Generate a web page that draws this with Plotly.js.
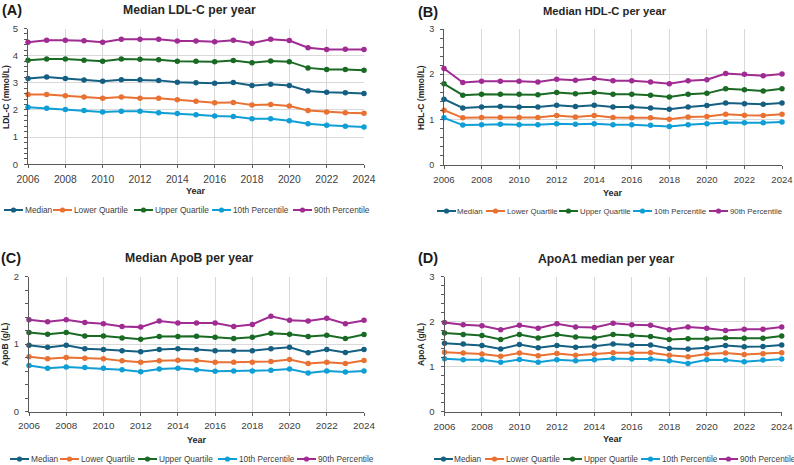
<!DOCTYPE html>
<html>
<head>
<meta charset="utf-8">
<script src="https://cdn.plot.ly/plotly-3.0.1.min.js"></script>
<style>
  html, body { margin: 0; padding: 0; background: #ffffff; }
  #chart { width: 794px; height: 465px; }
</style>
</head>
<body>
<div id="chart"></div>
<script>
// Survey years
const years = [2006, 2007, 2008, 2009, 2010, 2011, 2012, 2013, 2014, 2015,
               2016, 2017, 2018, 2019, 2020, 2021, 2022, 2023, 2024];

const seriesNames = ['Median', 'Lower Quartile', 'Upper Quartile', '10th Percentile', '90th Percentile'];
const seriesColors = ['#156082', '#E97132', '#196B24', '#0F9ED5', '#A02B93'];

// LDL-C (mmol/L)
const ldlMedian = [3.16, 3.21, 3.16, 3.10, 3.06, 3.11, 3.11, 3.09, 3.02, 3.00, 2.98, 3.01, 2.90, 2.95, 2.90, 2.70, 2.65, 2.63, 2.61];
const ldlLowerQ = [2.57, 2.57, 2.52, 2.48, 2.43, 2.48, 2.43, 2.43, 2.38, 2.32, 2.27, 2.28, 2.18, 2.20, 2.15, 1.98, 1.93, 1.90, 1.88];
const ldlUpperQ = [3.83, 3.88, 3.88, 3.83, 3.79, 3.88, 3.87, 3.85, 3.79, 3.79, 3.78, 3.82, 3.74, 3.80, 3.78, 3.55, 3.49, 3.49, 3.46];
const ldlP10    = [2.10, 2.06, 2.02, 1.98, 1.93, 1.95, 1.95, 1.90, 1.87, 1.82, 1.78, 1.76, 1.68, 1.68, 1.60, 1.49, 1.44, 1.40, 1.37];
const ldlP90    = [4.49, 4.57, 4.57, 4.55, 4.49, 4.60, 4.60, 4.60, 4.54, 4.54, 4.51, 4.57, 4.46, 4.60, 4.56, 4.29, 4.23, 4.24, 4.23];

// HDL-C (mmol/L)
const hdlMedian = [1.45, 1.26, 1.28, 1.29, 1.28, 1.28, 1.32, 1.29, 1.32, 1.28, 1.28, 1.26, 1.23, 1.28, 1.31, 1.37, 1.35, 1.34, 1.37];
const hdlLowerQ = [1.21, 1.04, 1.05, 1.05, 1.05, 1.05, 1.09, 1.06, 1.09, 1.05, 1.04, 1.04, 1.01, 1.06, 1.07, 1.12, 1.10, 1.09, 1.12];
const hdlUpperQ = [1.79, 1.54, 1.56, 1.56, 1.56, 1.55, 1.60, 1.57, 1.60, 1.56, 1.56, 1.54, 1.50, 1.56, 1.58, 1.68, 1.66, 1.63, 1.68];
const hdlP10    = [1.04, 0.88, 0.89, 0.90, 0.89, 0.89, 0.91, 0.90, 0.91, 0.89, 0.89, 0.875, 0.85, 0.89, 0.91, 0.94, 0.93, 0.93, 0.95];
const hdlP90    = [2.13, 1.82, 1.85, 1.85, 1.85, 1.83, 1.89, 1.87, 1.91, 1.86, 1.86, 1.83, 1.79, 1.86, 1.88, 2.02, 2.00, 1.97, 2.01];

// ApoB (g/L)
const apobMedian = [0.98, 0.95, 0.98, 0.93, 0.92, 0.90, 0.885, 0.92, 0.93, 0.92, 0.90, 0.90, 0.90, 0.93, 0.95, 0.87, 0.92, 0.875, 0.92];
const apobLowerQ = [0.81, 0.78, 0.80, 0.79, 0.78, 0.75, 0.73, 0.75, 0.76, 0.757, 0.73, 0.73, 0.73, 0.74, 0.77, 0.71, 0.73, 0.71, 0.757];
const apobUpperQ = [1.17, 1.145, 1.17, 1.12, 1.12, 1.09, 1.07, 1.11, 1.11, 1.115, 1.10, 1.08, 1.10, 1.16, 1.145, 1.11, 1.13, 1.08, 1.14];
const apobP10    = [0.68, 0.64, 0.66, 0.65, 0.64, 0.62, 0.59, 0.63, 0.64, 0.62, 0.595, 0.60, 0.60, 0.61, 0.63, 0.57, 0.60, 0.585, 0.60];
const apobP90    = [1.36, 1.33, 1.36, 1.32, 1.30, 1.26, 1.25, 1.34, 1.31, 1.31, 1.31, 1.26, 1.29, 1.41, 1.35, 1.34, 1.38, 1.30, 1.35];

// ApoA1 (g/L)
const apoaMedian = [1.52, 1.50, 1.47, 1.39, 1.49, 1.42, 1.47, 1.43, 1.45, 1.50, 1.48, 1.48, 1.40, 1.39, 1.42, 1.47, 1.44, 1.445, 1.48];
const apoaLowerQ = [1.32, 1.30, 1.28, 1.23, 1.30, 1.24, 1.29, 1.255, 1.28, 1.31, 1.31, 1.31, 1.255, 1.22, 1.28, 1.30, 1.27, 1.285, 1.31];
const apoaUpperQ = [1.745, 1.715, 1.69, 1.60, 1.715, 1.635, 1.715, 1.66, 1.635, 1.715, 1.69, 1.67, 1.60, 1.62, 1.62, 1.635, 1.63, 1.63, 1.68];
const apoaP10    = [1.175, 1.15, 1.15, 1.095, 1.16, 1.095, 1.15, 1.13, 1.15, 1.18, 1.17, 1.17, 1.13, 1.07, 1.15, 1.145, 1.11, 1.145, 1.17];
const apoaP90    = [1.98, 1.93, 1.905, 1.82, 1.92, 1.85, 1.95, 1.88, 1.87, 1.96, 1.93, 1.92, 1.82, 1.88, 1.85, 1.80, 1.83, 1.83, 1.88];

const W = 794, H = 465;
const px = v => v / W;          // pixel -> paper x
const py = v => 1 - v / H;      // pixel -> paper y

const FONT = 'Liberation Sans, Arial, sans-serif';
const AXIS_COLOR = '#595959';
const GRID_COLOR = '#d9d9d9';
const TEXT_COLOR = '#404040';

// Panel geometry (pixels) and content
const panels = [
  { tag: '(A)', title: 'Median LDL-C per year', ytitle: 'LDL-C (mmol/L)',
    series: [ldlMedian, ldlLowerQ, ldlUpperQ, ldlP10, ldlP90], yMax: 5,
    x: [28, 364], y: [28.5, 164.3], titleXY: [189.5, 10], titleSize: 12.2, tagXY: [1, 10],
    ytitleXY: [6, 97], yearXY: [196, 191], xTickSize: 10.3, yTickSize: 9.5,
    legendY: 210, legendX: [4, 53, 134, 212, 293], legendSize: 8.3 },
  { tag: '(B)', title: 'Median HDL-C per year', ytitle: 'HDL-C (mmol/L)',
    series: [hdlMedian, hdlLowerQ, hdlUpperQ, hdlP10, hdlP90], yMax: 3,
    x: [444, 782], y: [29, 165], titleXY: [605, 10.5], titleSize: 11.2, tagXY: [417, 12],
    ytitleXY: [421, 97], yearXY: [613, 193], xTickSize: 9.6, yTickSize: 9,
    legendY: 211, legendX: [437, 486, 559, 633, 709], legendSize: 7.8 },
  { tag: '(C)', title: 'Median ApoB per year', ytitle: 'ApoB (g/L)',
    series: [apobMedian, apobLowerQ, apobUpperQ, apobP10, apobP90], yMax: 2,
    x: [29, 364], y: [276.5, 411.5], titleXY: [189, 258], titleSize: 12.2, tagXY: [0, 258],
    ytitleXY: [5, 344], yearXY: [196.5, 440], xTickSize: 9.9, yTickSize: 9.5,
    legendY: 459, legendX: [10, 60, 138, 218, 297], legendSize: 8.3 },
  { tag: '(D)', title: 'ApoA1 median per year', ytitle: 'ApoA (g/L)',
    series: [apoaMedian, apoaLowerQ, apoaUpperQ, apoaP10, apoaP90], yMax: 3,
    x: [444.5, 781.7], y: [276.5, 411.7], titleXY: [606, 259], titleSize: 12.2, tagXY: [417, 258],
    ytitleXY: [421, 344], yearXY: [613, 439], xTickSize: 9.9, yTickSize: 9.5,
    legendY: 459, legendX: [434, 485, 563, 641, 719], legendSize: 8.3 }
];

const traces = [];
const layout = {
  width: W, height: H,
  margin: { l: 0, r: 0, t: 0, b: 0 },
  paper_bgcolor: '#ffffff', plot_bgcolor: '#ffffff',
  font: { family: FONT, color: TEXT_COLOR },
  showlegend: false,
  annotations: [],
  shapes: []
};

panels.forEach((p, i) => {
  const n = i === 0 ? '' : String(i + 1);
  const xName = 'x' + n, yName = 'y' + n;

  p.series.forEach((vals, s) => {
    traces.push({
      type: 'scatter', mode: 'lines+markers',
      x: years, y: vals, name: seriesNames[s],
      xaxis: xName, yaxis: yName,
      line: { color: seriesColors[s], width: 2 },
      marker: { color: seriesColors[s], size: 5.5 },
      cliponaxis: false,
      showlegend: false
    });
  });

  layout['xaxis' + n] = {
    domain: [px(p.x[0]), px(p.x[1])], anchor: yName,
    range: [2006, 2024], tick0: 2006, dtick: 2,
    showgrid: true, gridcolor: GRID_COLOR, gridwidth: 1,
    showline: true, linecolor: AXIS_COLOR, linewidth: 1,
    ticks: 'outside', ticklen: 3, tickcolor: AXIS_COLOR,
    ticklabelstandoff: 2,
    tickfont: { family: FONT, size: p.xTickSize, color: TEXT_COLOR },
    zeroline: false, fixedrange: true
  };
  layout['yaxis' + n] = {
    domain: [py(p.y[1]), py(p.y[0])], anchor: xName,
    range: [0, p.yMax], tick0: 0, dtick: 1,
    showgrid: true, gridcolor: GRID_COLOR, gridwidth: 1,
    showline: true, linecolor: AXIS_COLOR, linewidth: 1,
    ticks: 'outside', ticklen: 3, tickcolor: AXIS_COLOR,
    minor: { dtick: 0.2, ticks: 'outside', ticklen: 3, tickcolor: AXIS_COLOR, showgrid: false },
    ticklabelstandoff: 4,
    tickfont: { family: FONT, size: p.yTickSize, color: TEXT_COLOR },
    zeroline: false, fixedrange: true
  };

  const ann = layout.annotations;
  // panel letter
  ann.push({ xref: 'paper', yref: 'paper', x: px(p.tagXY[0]), y: py(p.tagXY[1]),
    xanchor: 'left', yanchor: 'middle', showarrow: false, borderpad: 0,
    text: '<b>' + p.tag + '</b>', font: { family: FONT, size: 14.5, color: '#1a1a1a' } });
  // panel title
  ann.push({ xref: 'paper', yref: 'paper', x: px(p.titleXY[0]), y: py(p.titleXY[1]),
    xanchor: 'center', yanchor: 'middle', showarrow: false, borderpad: 0,
    text: '<b>' + p.title + '</b>', font: { family: FONT, size: p.titleSize, color: '#262626' } });
  // y-axis title
  ann.push({ xref: 'paper', yref: 'paper', x: px(p.ytitleXY[0]), y: py(p.ytitleXY[1]),
    xanchor: 'center', yanchor: 'middle', showarrow: false, borderpad: 0, textangle: -90,
    text: '<b>' + p.ytitle + '</b>', font: { family: FONT, size: 8.5, color: '#262626' } });
  // x-axis title
  ann.push({ xref: 'paper', yref: 'paper', x: px(p.yearXY[0]), y: py(p.yearXY[1]),
    xanchor: 'center', yanchor: 'middle', showarrow: false, borderpad: 0,
    text: '<b>Year</b>', font: { family: FONT, size: 9, color: '#262626' } });

  // legend row: line-with-marker key followed by the series name
  seriesNames.forEach((name, s) => {
    const x0 = p.legendX[s], yc = p.legendY;
    layout.shapes.push({ type: 'line', xref: 'paper', yref: 'paper',
      x0: px(x0), x1: px(x0 + 19), y0: py(yc), y1: py(yc),
      line: { color: seriesColors[s], width: 2 } });
    layout.shapes.push({ type: 'circle', xref: 'paper', yref: 'paper',
      x0: px(x0 + 9.5 - 2.6), x1: px(x0 + 9.5 + 2.6), y0: py(yc + 2.6), y1: py(yc - 2.6),
      fillcolor: seriesColors[s], line: { color: seriesColors[s], width: 0 } });
    ann.push({ xref: 'paper', yref: 'paper', x: px(x0 + 19.5), y: py(yc),
      xanchor: 'left', yanchor: 'middle', showarrow: false, borderpad: 0,
      text: name, font: { family: FONT, size: p.legendSize, color: TEXT_COLOR } });
  });
});

Plotly.newPlot('chart', traces, layout, { staticPlot: true, displayModeBar: false });
</script>
</body>
</html>
